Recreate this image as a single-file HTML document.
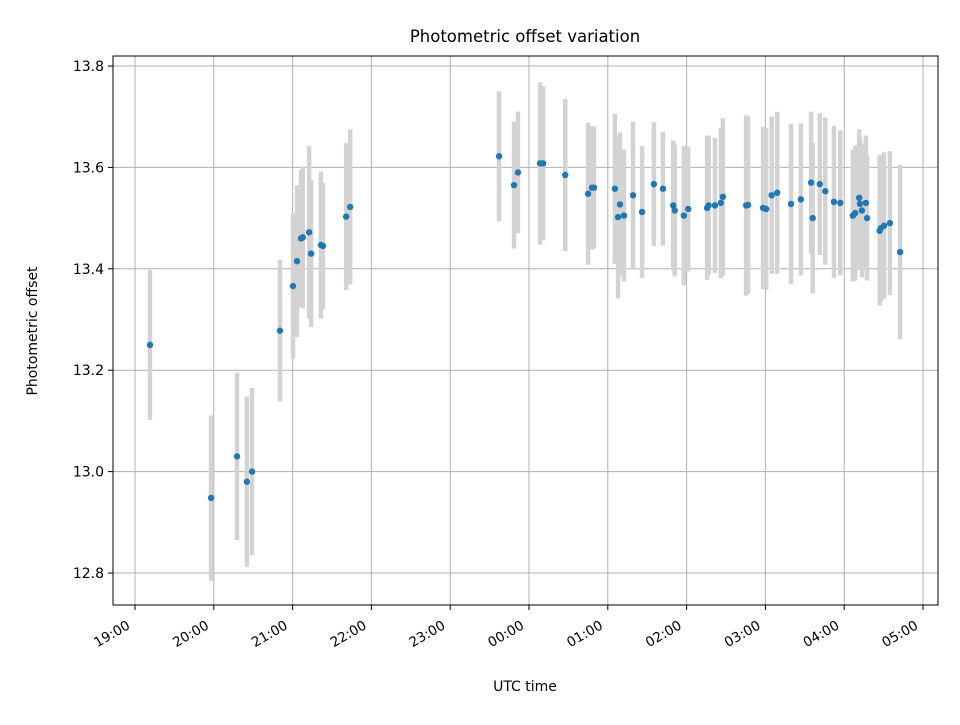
<!DOCTYPE html>
<html><head><meta charset="utf-8"><style>
body{margin:0;background:#fff}
svg text{font-family:"DejaVu Sans","Liberation Sans",sans-serif;fill:#000}
</style></head><body>
<svg id="chart" width="960" height="720" viewBox="0 0 960 720" xmlns="http://www.w3.org/2000/svg">
<rect width="960" height="720" fill="#fff"/>
<g id="grid"></g><g id="bars"></g><g id="pts"></g><g id="axes"></g>
<text x="525" y="42" font-size="16.5" text-anchor="middle">Photometric offset variation</text>
<text x="525" y="691" font-size="14" text-anchor="middle">UTC time</text>
<text transform="translate(37,331) rotate(-90)" font-size="14" text-anchor="middle">Photometric offset</text>
</svg>
<script>
const hoursSince1900=[0.19,0.965,1.295,1.42,1.485,1.84,2.005,2.056,2.107,2.13,2.21,2.235,2.36,2.385,2.68,2.73,4.62,4.81,4.86,5.14,5.18,5.46,5.75,5.80,5.825,6.09,6.13,6.155,6.205,6.32,6.435,6.585,6.70,6.83,6.85,6.965,7.02,7.26,7.28,7.36,7.435,7.46,7.755,7.78,7.97,8.01,8.08,8.15,8.325,8.45,8.58,8.60,8.69,8.76,8.87,8.95,9.11,9.14,9.19,9.20,9.225,9.275,9.29,9.45,9.465,9.505,9.58,9.71];
const offsets=[13.25,12.948,13.03,12.98,13.0,13.278,13.366,13.415,13.46,13.462,13.472,13.43,13.447,13.445,13.503,13.522,13.622,13.565,13.59,13.608,13.608,13.585,13.548,13.56,13.56,13.558,13.502,13.527,13.505,13.545,13.512,13.567,13.558,13.525,13.515,13.505,13.518,13.52,13.525,13.525,13.53,13.542,13.525,13.526,13.52,13.518,13.545,13.55,13.528,13.537,13.57,13.50,13.567,13.553,13.532,13.53,13.505,13.51,13.54,13.528,13.515,13.53,13.50,13.475,13.48,13.485,13.49,13.433];
const errors=[0.148,0.163,0.165,0.168,0.165,0.14,0.143,0.15,0.135,0.14,0.17,0.145,0.145,0.125,0.145,0.153,0.128,0.125,0.12,0.16,0.152,0.15,0.14,0.122,0.12,0.148,0.16,0.142,0.13,0.145,0.13,0.122,0.112,0.128,0.13,0.138,0.123,0.142,0.138,0.133,0.148,0.155,0.178,0.175,0.16,0.16,0.155,0.16,0.158,0.15,0.14,0.148,0.14,0.145,0.15,0.143,0.13,0.133,0.135,0.13,0.132,0.133,0.123,0.148,0.145,0.145,0.142,0.172];
const xTickLabels=["19:00","20:00","21:00","22:00","23:00","00:00","01:00","02:00","03:00","04:00","05:00"];
const yTickLabels=["12.8","13.0","13.2","13.4","13.6","13.8"];
const L=113,R=938,T=56,B=605;
const xs=h=>135+h*78.8;
const ys=v=>573-(v-12.8)*507;
const NS="http://www.w3.org/2000/svg";
function mk(tag,attrs,parent){const e=document.createElementNS(NS,tag);for(const k in attrs)e.setAttribute(k,attrs[k]);parent.appendChild(e);return e;}
const grid=document.getElementById('grid'),bars=document.getElementById('bars'),pts=document.getElementById('pts'),axes=document.getElementById('axes');
xTickLabels.forEach((lab,i)=>{const x=xs(i);
 let g=mk('line',{x1:x,x2:x,y1:T,y2:B,stroke:'#b0b0b0','stroke-width':1},grid);
 
 let t=mk('line',{x1:x,x2:x,y1:B,y2:B+5,stroke:'#000','stroke-width':1},axes);
 
 const ax=x-4,ay=B+23;
 let tx=mk('text',{x:ax,y:ay,'font-size':13.5,'text-anchor':'end',transform:`rotate(-30 ${ax} ${ay})`},axes);
 tx.textContent=lab;
 
});
yTickLabels.forEach(lab=>{const y=ys(parseFloat(lab));
 let g=mk('line',{x1:L,x2:R,y1:y,y2:y,stroke:'#b0b0b0','stroke-width':1},grid);
 
 let t=mk('line',{x1:L-5,x2:L,y1:y,y2:y,stroke:'#000','stroke-width':1},axes);
 
 let tx=mk('text',{x:L-9,y:y+5,'font-size':14,'text-anchor':'end'},axes);
 tx.textContent=lab;
 
});
hoursSince1900.forEach((h,i)=>{const x=xs(h),v=offsets[i],e=errors[i];
 let b=mk('line',{x1:x,x2:x,y1:ys(v+e),y2:ys(v-e),stroke:'#d3d3d3','stroke-width':4.5},bars);
 
});
hoursSince1900.forEach((h,i)=>{
 let c=mk('circle',{cx:xs(h),cy:ys(offsets[i]),r:3.2,fill:'#1f77b4'},pts);
 
});
let f=mk('rect',{x:L,y:T,width:R-L,height:B-T,fill:'none',stroke:'#000','stroke-width':1},axes);

</script>
</body></html>
